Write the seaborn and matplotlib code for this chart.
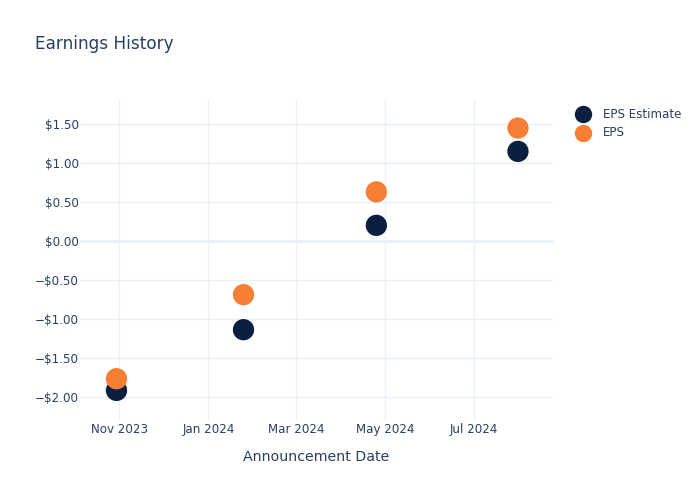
import matplotlib
matplotlib.use("Agg")
import matplotlib.pyplot as plt
import matplotlib.dates as mdates
import matplotlib.ticker as mticker
import seaborn as sns
import pandas as pd

dates = ["2023-10-30", "2024-01-25", "2024-04-25", "2024-07-31"]
eps_estimate = [-1.92, -1.14, 0.20, 1.15]
eps_actual = [-1.77, -0.69, 0.63, 1.45]
series_names = ["EPS Estimate", "EPS"]
colors = ["#0B1F40", "#F67F35"]
title = "Earnings History"
x_label = "Announcement Date"

df = pd.DataFrame({
    "date": pd.to_datetime(dates * 2),
    "value": eps_estimate + eps_actual,
    "series": [series_names[0]] * len(dates) + [series_names[1]] * len(dates),
})

sns.set_theme(style="white")
plt.rcParams["font.family"] = ["DejaVu Sans"]
text_color = "#2a3f5f"
grid_color = "#EBF0F8"

fig = plt.figure(figsize=(7, 5), dpi=100)
ax = fig.add_axes([80 / 700, 1 - 420 / 500, (553 - 80) / 700, (420 - 100) / 500])

sns.scatterplot(data=df, x="date", y="value", hue="series", palette=colors,
                hue_order=series_names, s=235, linewidth=0, ax=ax, zorder=3,
                legend=False)

ax.set_xlim(pd.Timestamp("2023-10-05"), pd.Timestamp("2024-08-24"))
ax.set_ylim(-2.30, 1.81)
ax.set_xticks([pd.Timestamp(d) for d in ["2023-11-01", "2024-01-01", "2024-03-01", "2024-05-01", "2024-07-01"]])
ax.xaxis.set_major_formatter(mdates.DateFormatter("%b %Y"))
ax.set_yticks([-2, -1.5, -1, -0.5, 0, 0.5, 1, 1.5])

def fmt(v, pos):
    s = f"${abs(v):.2f}"
    return ("\u2212" + s) if v < 0 else s
ax.yaxis.set_major_formatter(mticker.FuncFormatter(fmt))

ax.grid(True, color=grid_color, linewidth=1, zorder=0)
ax.axhline(0, color=grid_color, linewidth=2, zorder=1)
for sp in ax.spines.values():
    sp.set_visible(False)
ax.tick_params(axis="y", length=0, labelsize=8.6, colors=text_color, pad=1)
ax.tick_params(axis="x", length=0, labelsize=8.6, colors=text_color, pad=2)
ax.set_xlabel(x_label, fontsize=10.2, color=text_color, labelpad=10.5)
ax.set_ylabel("")

fig.text(35 / 700, 1 - 44 / 500, title, fontsize=12.2, color=text_color, va="center", ha="left")

for i, (name, c) in enumerate(zip(series_names, colors)):
    y = 1 - (114 + 19 * i) / 500
    fig.add_artist(plt.Line2D([583 / 700], [y], marker="o", markersize=11.5,
                              color=c, linestyle="none", transform=fig.transFigure))
    fig.text(603 / 700, y, name, fontsize=8.6, color=text_color, va="center", ha="left")

fig.savefig("out.png", dpi=100, facecolor="white")
